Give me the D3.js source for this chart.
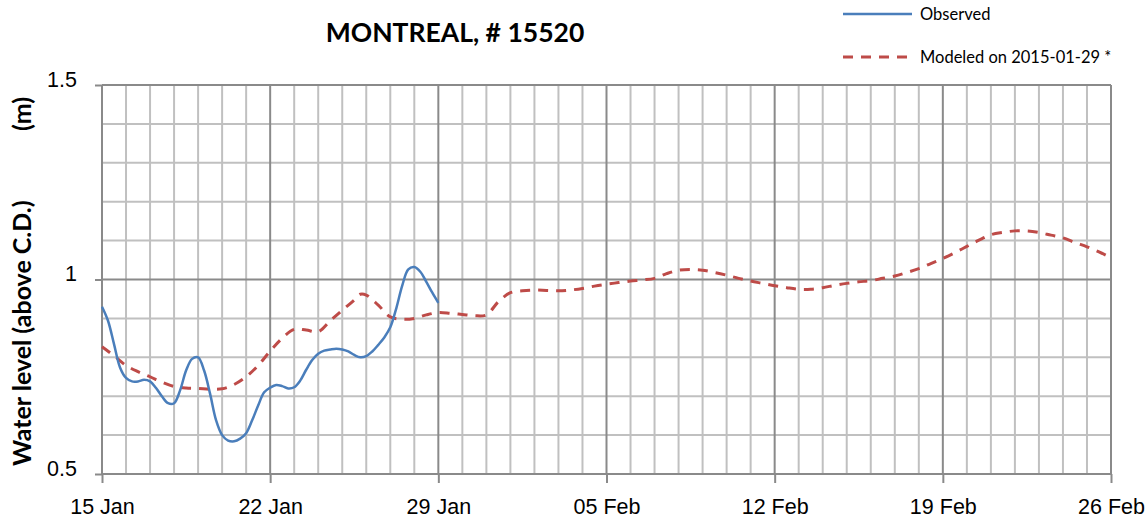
<!DOCTYPE html>
<html lang="en">
<head>
  <meta charset="UTF-8">
  <title>MONTREAL, # 15520 - D3</title>
  <script src="https://d3js.org/d3.v7.min.js"></script>
  <style>
    body {
      margin: 0;
      background: #fff;
      font-family: Lato, "Open Sans", sans-serif;
    }
    .grid-minor { stroke: #c0c0c0; stroke-width: 2; }
    .grid-major { stroke: #8a8a8a; stroke-width: 2; }
    .obs { fill: none; stroke: #4a7ebb; stroke-width: 2.5; }
    .mod { fill: none; stroke: #be4b48; stroke-width: 3; stroke-dasharray: 10,8; }
    .tick-label { font-size: 21.5px; fill: #000; }
  </style>
</head>
<body>

<script>
  // Données : jours depuis le 15 janvier 2015 et niveaux (m)
  var startDate = new Date(2015, 0, 15);

  var obsDays = [
    0, 0.25, 0.5, 0.75, 1, 1.25, 1.5, 1.75, 2, 2.25, 2.5, 2.75, 3, 3.25, 3.5, 3.75,
    4, 4.25, 4.5, 4.75, 5, 5.25, 5.5, 5.75, 6, 6.25, 6.5, 6.75, 7, 7.25, 7.5, 7.75,
    8, 8.25, 8.5, 8.75, 9, 9.25, 9.5, 9.75, 10, 10.25, 10.5, 10.75, 11, 11.25, 11.5, 11.75,
    12, 12.25, 12.5, 12.75, 13, 13.25, 13.5, 13.75, 14
  ];
  var obsLevel = [
    0.930, 0.894, 0.834, 0.774, 0.747, 0.738, 0.738, 0.742, 0.738, 0.721, 0.699, 0.682, 0.682, 0.715, 0.766, 0.796,
    0.800, 0.766, 0.706, 0.638, 0.600, 0.586, 0.584, 0.591, 0.605, 0.638, 0.676, 0.710, 0.722, 0.729, 0.726, 0.720,
    0.723, 0.740, 0.768, 0.793, 0.809, 0.817, 0.820, 0.822, 0.820, 0.815, 0.806, 0.800, 0.803, 0.815, 0.832, 0.851,
    0.877, 0.926, 0.985, 1.026, 1.032, 1.020, 0.994, 0.966, 0.940
  ];

  var modDays = [
    0, 0.5, 1, 1.5, 2, 2.5, 3, 3.5, 4, 4.5, 5, 5.5, 6, 6.5, 7, 7.5, 8, 8.5, 9, 9.5,
    10, 10.5, 10.75, 11, 11.5, 12, 12.5, 13, 13.5, 14, 14.5, 15, 15.5, 16, 16.5, 17, 17.5, 18, 18.5, 19,
    19.5, 20, 20.5, 21, 21.5, 22, 22.5, 23, 23.5, 24, 24.5, 25, 25.5, 26, 26.5, 27, 27.5, 28, 28.5, 29,
    29.5, 30, 30.5, 31, 31.5, 32, 32.5, 33, 33.5, 34, 34.5, 35, 35.5, 36, 36.5, 37, 37.5, 38, 38.5, 39,
    39.5, 40, 40.5, 41, 41.5, 42
  ];
  var modLevel = [
    0.827, 0.804, 0.779, 0.763, 0.750, 0.736, 0.725, 0.721, 0.720, 0.718, 0.719, 0.730, 0.750, 0.779, 0.816, 0.849, 0.872, 0.870, 0.866, 0.894,
    0.921, 0.947, 0.962, 0.960, 0.934, 0.904, 0.898, 0.900, 0.909, 0.915, 0.913, 0.910, 0.907, 0.909, 0.943, 0.966, 0.971, 0.973, 0.972, 0.971,
    0.973, 0.977, 0.983, 0.988, 0.992, 0.996, 0.999, 1.003, 1.015, 1.024, 1.026, 1.024, 1.018, 1.011, 1.003, 0.996, 0.990, 0.984, 0.979, 0.975,
    0.975, 0.979, 0.985, 0.990, 0.994, 0.997, 1.003, 1.009, 1.018, 1.028, 1.041, 1.054, 1.069, 1.085, 1.101, 1.115, 1.121, 1.125, 1.125, 1.121,
    1.114, 1.107, 1.095, 1.084, 1.071, 1.056
  ];

  var yTicks = [0.5, 1, 1.5];
  var seriesNames = ["Observed", "Modeled on 2015-01-29 *"];

  function toDate(d) { return new Date(startDate.getTime() + d * 864e5); }

  // Marges et dimensions
  var margin = { top: 85, right: 37, bottom: 51, left: 102 },
      width = 1148 - margin.left - margin.right,
      height = 525 - margin.top - margin.bottom;

  var root = d3.select("body")
              .append("svg")
              .attr("width", 1148)
              .attr("height", 525);

  var svg = root.append("g")
              .attr("transform", `translate(${margin.left},${margin.top})`);

  // Échelles
  var xScale = d3.scaleTime()
                 .domain([toDate(0), toDate(42)])
                 .range([0, width]);

  var yScale = d3.scaleLinear()
                 .domain([0.5, 1.5])
                 .range([height, 0]);

  // Grille
  var days = d3.range(0, 43);
  svg.selectAll(".vgrid")
     .data(days)
     .enter()
     .append("line")
     .attr("class", d => d % 7 === 0 ? "grid-major" : "grid-minor")
     .attr("x1", d => xScale(toDate(d)))
     .attr("x2", d => xScale(toDate(d)))
     .attr("y1", 0)
     .attr("y2", height);

  var levels = d3.range(5, 16).map(d => d / 10);
  svg.selectAll(".hgrid")
     .data(levels)
     .enter()
     .append("line")
     .attr("class", d => Math.round(d * 10) % 5 === 0 ? "grid-major" : "grid-minor")
     .attr("x1", 0)
     .attr("x2", width)
     .attr("y1", d => yScale(d))
     .attr("y2", d => yScale(d));
  // redessiner les lignes majeures au-dessus
  svg.selectAll(".grid-major").raise();

  // Axe X
  var xAxis = svg.append("g")
     .attr("transform", `translate(0,${height})`)
     .call(d3.axisBottom(xScale)
             .tickValues(d3.range(0, 43, 7).map(toDate))
             .tickFormat(d3.timeFormat("%d %b"))
             .tickSize(9)
             .tickPadding(16));
  xAxis.select(".domain").remove();
  xAxis.selectAll("line").attr("stroke", "#8a8a8a").attr("stroke-width", 2);
  xAxis.selectAll("text").attr("class", "tick-label").attr("font-family", null).attr("font-size", null);

  // Axe Y
  var yAxis = svg.append("g")
     .call(d3.axisLeft(yScale)
             .tickValues(yTicks)
             .tickFormat(d3.format("~g"))
             .tickSize(7)
             .tickPadding(18));
  yAxis.select(".domain").remove();
  yAxis.selectAll("line").attr("stroke", "#8a8a8a").attr("stroke-width", 2);
  yAxis.selectAll("text").attr("class", "tick-label").attr("font-family", null).attr("font-size", null)
       .attr("dy", "0.05em");

  // Titre
  root.append("text")
      .attr("x", 455)
      .attr("y", 42)
      .attr("text-anchor", "middle")
      .attr("font-size", "26.5px")
      .attr("font-weight", "bold")
      .text("MONTREAL, # 15520");

  // Titre axe Y
  root.append("text")
      .attr("transform", "translate(31,466) rotate(-90)")
      .attr("font-size", "25px")
      .attr("font-weight", "bold")
      .text("Water level (above C.D.)");
  root.append("text")
      .attr("transform", "translate(31,131) rotate(-90)")
      .attr("font-size", "25px")
      .attr("font-weight", "bold")
      .text("(m)");

  // Courbes
  var obsData = obsDays.map((d, i) => [toDate(d), obsLevel[i]]);
  var modData = modDays.map((d, i) => [toDate(d), modLevel[i]]);

  var lineGen = d3.line()
                  .x(d => xScale(d[0]))
                  .y(d => yScale(d[1]))
                  .curve(d3.curveCatmullRom);

  svg.append("path")
     .datum(modData)
     .attr("class", "mod")
     .attr("d", lineGen);

  svg.append("path")
     .datum(obsData)
     .attr("class", "obs")
     .attr("d", lineGen);

  // Légende
  var legend = root.append("g");
  var legendRows = [
    { name: seriesNames[0], cls: "obs", y: 14, x2: 912 },
    { name: seriesNames[1], cls: "mod", y: 57, x2: 908 }
  ];
  legendRows.forEach(function (r) {
    legend.append("line")
          .attr("class", r.cls)
          .attr("x1", 843)
          .attr("x2", r.x2)
          .attr("y1", r.y)
          .attr("y2", r.y);
    legend.append("text")
          .attr("x", 920)
          .attr("y", r.y)
          .attr("dy", "0.35em")
          .attr("font-size", "16.5px")
          .text(r.name);
  });
</script>

</body>
</html>
